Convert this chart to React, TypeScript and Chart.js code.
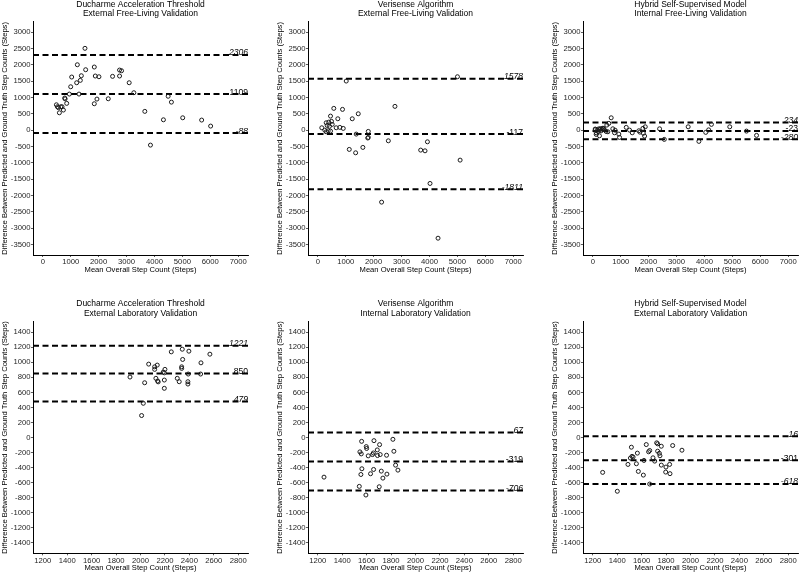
import React, { useEffect, useRef } from "react";
import { Chart, registerables } from "chart.js";

Chart.register(...registerables);

const FONT = "'Liberation Sans', Arial, Helvetica, sans-serif";

// ---- tick labels ----
const freeLivingXTicks = [0, 1000, 2000, 3000, 4000, 5000, 6000, 7000];
const freeLivingYTicks = [-3500, -3000, -2500, -2000, -1500, -1000, -500, 0, 500, 1000, 1500, 2000, 2500, 3000];
const labXTicks = [1200, 1400, 1600, 1800, 2000, 2200, 2400, 2600, 2800];
const labYTicks = [-1400, -1200, -1000, -800, -600, -400, -200, 0, 200, 400, 600, 800, 1000, 1200, 1400];

const xAxisTitle = "Mean Overall Step Count (Steps)";
const yAxisTitle = "Difference Between Predicted and Ground Truth Step Counts (Steps)";

// ---- titles ----
const ducharmeFreeLivingTitle = ["Ducharme Acceleration Threshold", "External Free-Living Validation"];
const verisenseFreeLivingTitle = ["Verisense Algorithm", "External Free-Living Validation"];
const hybridFreeLivingTitle = ["Hybrid Self-Supervised Model", "Internal Free-Living Validation"];
const ducharmeLabTitle = ["Ducharme Acceleration Threshold", "External Laboratory Validation"];
const verisenseLabTitle = ["Verisense Algorithm", "Internal Laboratory Validation"];
const hybridLabTitle = ["Hybrid Self-Supervised Model", "External Laboratory Validation"];

// ---- limits of agreement: [upper, mean, lower] ----
const ducharmeFreeLivingLimits = [2306, 1109, -88];
const verisenseFreeLivingLimits = [1578, -117, -1811];
const hybridFreeLivingLimits = [234, -23, -280];
const ducharmeLabLimits = [1221, 850, 479];
const verisenseLabLimits = [67, -319, -706];
const hybridLabLimits = [16, -301, -618];

// ---- points: [mean, difference] ----
const ducharmeFreeLiving = [
  [488, 779], [524, 718], [560, 690], [595, 534], [643, 718], [690, 718], [738, 617], [786, 985],
  [800, 960], [857, 822], [952, 1107], [1000, 1331], [1036, 1629], [1214, 1454], [1238, 2006],
  [1298, 1107], [1345, 1527], [1381, 1669], [1511, 2509], [1536, 1853], [1845, 1936], [1845, 810],
  [1881, 1660], [1940, 954], [2012, 1638], [2345, 963], [2500, 1650], [2750, 1843], [2821, 1822],
  [2750, 1660], [3095, 1454], [3262, 1148], [3655, 577], [3857, -457], [4321, 319], [4490, 1040],
  [4607, 860], [5012, 380], [5690, 310], [6012, 126],
];
const verisenseFreeLiving = [
  [144, 74], [251, 3], [301, 227], [301, -49], [337, 147], [373, -18], [395, 248], [420, 120],
  [456, 432], [456, -28], [492, 270], [517, 178], [574, 669], [660, 74], [718, 350], [790, 86],
  [886, 638], [912, 55], [1019, 1506], [1128, -589], [1235, 350], [1356, -693], [1378, -120],
  [1450, 503], [1615, -528], [1790, -240], [1809, -37], [1809, -221], [2286, -2205], [2527, -325],
  [2764, 730], [3686, -610], [3841, -632], [3927, -356], [4020, -1632], [4307, -3310], [5003, 1638],
  [5098, -917],
];
const hybridFreeLiving = [
  [86, 34], [97, 25], [122, -129], [122, -80], [160, 10], [190, -40], [210, 40], [240, -172],
  [250, 20], [280, 50], [300, -20], [330, 30], [360, 60], [384, 55], [420, 10], [480, -40],
  [503, 156], [540, -49], [574, 208], [660, 380], [718, 43], [779, -80], [800, 0], [933, -120],
  [958, -221], [1199, 86], [1317, 3], [1414, -80], [1651, -18], [1688, -60], [1795, 55], [1811, -94],
  [1856, -181], [1880, 104], [2393, 43], [2562, -282], [3417, 104], [3800, -343], [4045, -67],
  [4150, 10], [4250, 178], [4906, 104], [5505, -28], [5865, -160],
];
const ducharmeLab = [
  [1914, 804], [2034, 728], [2023, 455], [2009, 292], [2067, 976], [2116, 940], [2116, 906],
  [2137, 963], [2126, 787], [2140, 751], [2145, 740], [2186, 870], [2200, 906], [2195, 860],
  [2195, 764], [2195, 654], [2252, 1139], [2301, 787], [2317, 742], [2337, 940], [2337, 919],
  [2342, 1174], [2345, 1038], [2396, 1148], [2391, 844], [2388, 742], [2388, 711], [2495, 993],
  [2492, 844], [2568, 1108],
];
const verisenseLab = [
  [1251, -527], [1540, -650], [1594, -765], [1559, -51], [1545, -191], [1556, -218], [1597, -121],
  [1600, -146], [1561, -416], [1553, -492], [1613, -244], [1632, -482], [1648, -227], [1655, -206],
  [1660, -42], [1657, -425], [1687, -165], [1689, -240], [1706, -95], [1711, -227], [1703, -655],
  [1720, -447], [1733, -540], [1763, -236], [1766, -487], [1815, -24], [1823, -183], [1837, -368],
  [1856, -434],
];
const hybridLab = [
  [1281, -464], [1401, -715], [1488, -358], [1516, -129], [1508, -274], [1521, -251], [1530, -260],
  [1565, -208], [1557, -349], [1573, -451], [1614, -500], [1619, -305], [1638, -94], [1657, -190],
  [1666, -173], [1666, -619], [1693, -270], [1707, -314], [1723, -71], [1731, -84], [1731, -182],
  [1750, -243], [1745, -210], [1761, -116], [1761, -367], [1799, -393], [1797, -460], [1829, -358],
  [1832, -481], [1854, -107], [1930, -169],
];

type PanelCfg = { title: string[]; points: number[][]; limits: number[]; row: number; col: number };

const panels: PanelCfg[] = [
  { title: ducharmeFreeLivingTitle, points: ducharmeFreeLiving, limits: ducharmeFreeLivingLimits, row: 0, col: 0 },
  { title: verisenseFreeLivingTitle, points: verisenseFreeLiving, limits: verisenseFreeLivingLimits, row: 0, col: 1 },
  { title: hybridFreeLivingTitle, points: hybridFreeLiving, limits: hybridFreeLivingLimits, row: 0, col: 2 },
  { title: ducharmeLabTitle, points: ducharmeLab, limits: ducharmeLabLimits, row: 1, col: 0 },
  { title: verisenseLabTitle, points: verisenseLab, limits: verisenseLabLimits, row: 1, col: 1 },
  { title: hybridLabTitle, points: hybridLab, limits: hybridLabLimits, row: 1, col: 2 },
];

const W = 270;

function Panel({ cfg }: { cfg: PanelCfg }) {
  const ref = useRef<HTMLCanvasElement | null>(null);
  const lab = cfg.row === 1;
  const H = lab ? 285 : 290;

  useEffect(() => {
    if (!ref.current) return;
    const xTicks = lab ? labXTicks : freeLivingXTicks;
    const yTicks = lab ? labYTicks : freeLivingYTicks;
    const xRange = lab ? [1120, 2880] : [-350, 7350];
    const yRange = lab ? [-1540, 1540] : [-3825, 3325];
    const tickFont = { family: FONT, size: 7.7 };
    const titleFont = { family: FONT, size: 7.6, lineHeight: 1.2 };

    const labelPlugin = {
      id: "loaLabels",
      afterDatasetsDraw(chart: any) {
        const { ctx, chartArea, scales } = chart;
        ctx.save();
        ctx.fillStyle = "#000";
        ctx.textAlign = "right";
        ctx.textBaseline = "alphabetic";
        cfg.limits.forEach((v, i) => {
          ctx.font = `${i === 1 ? "" : "italic "}8.6px ${FONT}`;
          ctx.fillText(String(v), chartArea.right, scales.y.getPixelForValue(v) + 0.5);
        });
        ctx.restore();
      },
    };

    const chart = new Chart(ref.current, {
      type: "scatter",
      data: {
        datasets: [
          {
            data: cfg.points.map(([x, y]) => ({ x, y })),
            pointRadius: 2,
            pointHoverRadius: 2,
            borderWidth: 1,
            borderColor: "#1a1a1a",
            backgroundColor: "rgba(0,0,0,0)",
            pointStyle: "circle",
          },
          ...cfg.limits.map((v) => ({
            data: [
              { x: xRange[0], y: v },
              { x: xRange[1], y: v },
            ],
            showLine: true,
            pointRadius: 0,
            pointHoverRadius: 0,
            borderColor: "#000",
            borderWidth: 2,
            borderDash: [6, 3.5],
            fill: false,
          })),
        ],
      } as any,
      options: {
        animation: false,
        responsive: false,
        events: [],
        layout: { padding: { left: 0, right: W - 33 - 215, top: 0, bottom: lab ? 0 : 13 } },
        plugins: {
          legend: { display: false },
          tooltip: { enabled: false },
          title: {
            display: true,
            text: cfg.title,
            fullSize: false,
            color: "#000",
            font: { family: FONT, size: 8.5, lineHeight: 1.1, weight: "normal" },
            padding: lab ? { top: 9.3, bottom: 3.7 } : { top: 0, bottom: 3 },
          },
        },
        scales: {
          x: {
            type: "linear",
            min: xRange[0],
            max: xRange[1],
            afterBuildTicks: (s: any) => {
              s.ticks = xTicks.map((v) => ({ value: v }));
            },
            afterFit: (s: any) => {
              s.height = lab ? 21.7 : 22;
            },
            grid: { display: true, drawOnChartArea: false, drawTicks: true, tickLength: 2, color: "#333", lineWidth: 0.8 },
            border: { display: true, color: "#000", width: 1 },
            ticks: { font: tickFont, color: "#262626", padding: 0.5, maxRotation: 0, autoSkip: false, callback: (v: any) => String(v) },
            title: { display: true, text: xAxisTitle, color: "#000", font: titleFont, padding: { top: 0, bottom: lab ? 2.8 : 2.5 } },
          },
          y: {
            type: "linear",
            min: yRange[0],
            max: yRange[1],
            afterBuildTicks: (s: any) => {
              s.ticks = yTicks.map((v) => ({ value: v }));
            },
            afterFit: (s: any) => {
              s.width = 33;
            },
            grid: { display: true, drawOnChartArea: false, drawTicks: true, tickLength: 2, color: "#333", lineWidth: 0.8 },
            border: { display: true, color: "#000", width: 1 },
            ticks: { font: tickFont, color: "#262626", padding: 0.5, autoSkip: false, callback: (v: any) => String(v) },
            title: { display: true, text: yAxisTitle, color: "#000", font: titleFont, padding: { top: 0.5, bottom: 0 } },
          },
        },
      } as any,
      plugins: [labelPlugin],
    });
    return () => chart.destroy();
  }, []);

  return (
    <canvas
      ref={ref}
      width={W}
      height={H}
      style={{ position: "absolute", left: cfg.col * 275, top: cfg.row * 290, width: W, height: H }}
    />
  );
}

export default function App() {
  return (
    <div
      style={{
        position: "fixed",
        left: 0,
        top: 0,
        width: 800,
        height: 575,
        overflow: "hidden",
        background: "#fff",
      }}
    >
      {panels.map((p, i) => (
        <Panel key={i} cfg={p} />
      ))}
    </div>
  );
}
